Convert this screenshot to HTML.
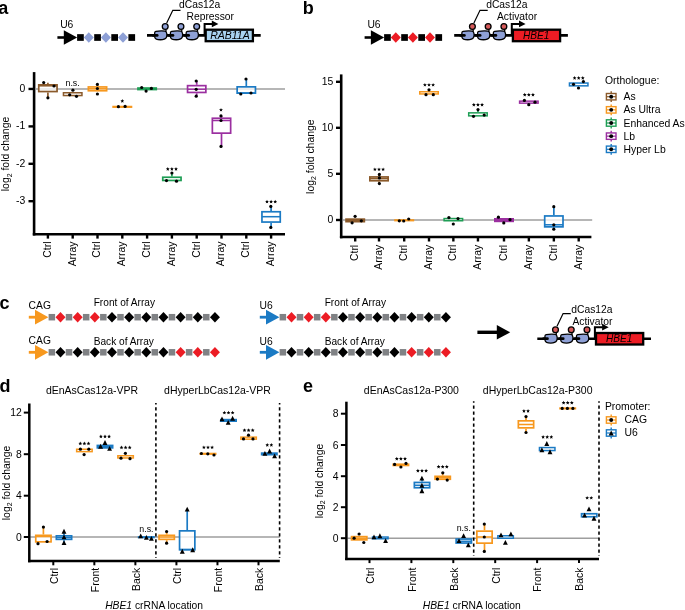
<!DOCTYPE html><html><head><meta charset="utf-8"><style>html,body{margin:0;padding:0;background:#fff;}svg{display:block;will-change:transform;}</style></head><body><svg width="685" height="610" viewBox="0 0 685 610" font-family='"Liberation Sans", sans-serif'>
<rect width="685" height="610" fill="#fff"/>
<text x="-1.8" y="14.2" font-size="18" font-weight="bold">a</text>
<text x="302.8" y="14.2" font-size="18" font-weight="bold">b</text>
<text x="-0.6" y="308.9" font-size="18" font-weight="bold">c</text>
<text x="-0.6" y="392.3" font-size="18" font-weight="bold">d</text>
<text x="303.0" y="392.3" font-size="18" font-weight="bold">e</text>
<text x="60.2" y="28.2" font-size="10.3" text-anchor="start" >U6</text>
<line x1="57.4" y1="37.5" x2="64.8" y2="37.5" stroke="#000" stroke-width="2.6"/>
<path d="M63.8 30.2 L77.2 37.5 L63.8 44.8Z" fill="#000"/>
<rect x="77.10" y="34.15" width="6.7" height="6.7" fill="#000"/>
<rect x="94.20" y="34.15" width="6.7" height="6.7" fill="#000"/>
<rect x="111.30" y="34.15" width="6.7" height="6.7" fill="#000"/>
<rect x="128.40" y="34.15" width="6.7" height="6.7" fill="#000"/>
<path d="M83.80 37.50 L88.80 32.25 L93.80 37.50 L88.80 42.75Z" fill="#8ea0d6"/>
<path d="M100.90 37.50 L105.90 32.25 L110.90 37.50 L105.90 42.75Z" fill="#8ea0d6"/>
<path d="M118.00 37.50 L123.00 32.25 L128.00 37.50 L123.00 42.75Z" fill="#8ea0d6"/>
<line x1="147" y1="35.4" x2="260.7" y2="35.4" stroke="#000" stroke-width="2.6"/>
<path d="M155.90 31.30 C158.90 30.75 162.90 30.70 165.20 31.10 C167.20 31.80 167.20 35.70 166.40 37.40 C165.30 39.20 162.90 39.75 160.50 39.75 C157.50 39.75 155.20 39.10 154.80 37.30 L154.65 32.90 C154.65 32.00 155.10 31.50 155.90 31.30Z" fill="#8ea0d6" stroke="#000" stroke-width="1.3"/>
<line x1="153.30" y1="35.4" x2="157.20" y2="35.4" stroke="#000" stroke-width="2.7" stroke-linecap="round"/>
<line x1="165.80" y1="28.50" x2="166.10" y2="31.60" stroke="#000" stroke-width="1.3"/>
<circle cx="165.20" cy="26.50" r="2.9" fill="#8ea0d6" stroke="#000" stroke-width="1.3"/>
<path d="M171.65 31.30 C174.65 30.75 178.65 30.70 180.95 31.10 C182.95 31.80 182.95 35.70 182.15 37.40 C181.05 39.20 178.65 39.75 176.25 39.75 C173.25 39.75 170.95 39.10 170.55 37.30 L170.40 32.90 C170.40 32.00 170.85 31.50 171.65 31.30Z" fill="#8ea0d6" stroke="#000" stroke-width="1.3"/>
<line x1="169.05" y1="35.4" x2="172.95" y2="35.4" stroke="#000" stroke-width="2.7" stroke-linecap="round"/>
<line x1="181.55" y1="28.50" x2="181.85" y2="31.60" stroke="#000" stroke-width="1.3"/>
<circle cx="180.95" cy="26.50" r="2.9" fill="#8ea0d6" stroke="#000" stroke-width="1.3"/>
<path d="M187.40 31.30 C190.40 30.75 194.40 30.70 196.70 31.10 C198.70 31.80 198.70 35.70 197.90 37.40 C196.80 39.20 194.40 39.75 192.00 39.75 C189.00 39.75 186.70 39.10 186.30 37.30 L186.15 32.90 C186.15 32.00 186.60 31.50 187.40 31.30Z" fill="#8ea0d6" stroke="#000" stroke-width="1.3"/>
<line x1="184.80" y1="35.4" x2="188.70" y2="35.4" stroke="#000" stroke-width="2.7" stroke-linecap="round"/>
<line x1="197.30" y1="28.50" x2="197.60" y2="31.60" stroke="#000" stroke-width="1.3"/>
<circle cx="196.70" cy="26.50" r="2.9" fill="#8ea0d6" stroke="#000" stroke-width="1.3"/>
<polyline points="166.7,23.0 172.8,10.3 180.5,10.3" fill="none" stroke="#000" stroke-width="1.2"/>
<polyline points="204.6,35.4 204.6,23.9 212.5,23.9" fill="none" stroke="#000" stroke-width="2"/>
<path d="M211.8 20.5 L218.4 23.9 L211.8 27.3Z" fill="#000"/>
<rect x="205.7" y="29.7" width="47.2" height="11.5" fill="#a9d3f0" stroke="#000" stroke-width="2.3"/>
<text x="210.2" y="39.1" font-size="10.5" font-style="italic" fill="#000">RAB11A</text>
<text x="179.0" y="7.6" font-size="10.3" text-anchor="start" >dCas12a</text>
<text x="186.5" y="19.8" font-size="10.3" text-anchor="start" >Repressor</text>
<text x="367.4" y="28.2" font-size="10.3" text-anchor="start" >U6</text>
<line x1="364.6" y1="37.5" x2="371.9" y2="37.5" stroke="#000" stroke-width="2.6"/>
<path d="M370.9 30.2 L384.2 37.5 L370.9 44.8Z" fill="#000"/>
<rect x="384.10" y="34.15" width="6.7" height="6.7" fill="#000"/>
<rect x="401.20" y="34.15" width="6.7" height="6.7" fill="#000"/>
<rect x="418.30" y="34.15" width="6.7" height="6.7" fill="#000"/>
<rect x="435.40" y="34.15" width="6.7" height="6.7" fill="#000"/>
<path d="M390.80 37.50 L395.80 32.25 L400.80 37.50 L395.80 42.75Z" fill="#ec1c24"/>
<path d="M407.90 37.50 L412.90 32.25 L417.90 37.50 L412.90 42.75Z" fill="#ec1c24"/>
<path d="M425.00 37.50 L430.00 32.25 L435.00 37.50 L430.00 42.75Z" fill="#ec1c24"/>
<line x1="454.2" y1="35.4" x2="567.9" y2="35.4" stroke="#000" stroke-width="2.6"/>
<path d="M463.10 31.30 C466.10 30.75 470.10 30.70 472.40 31.10 C474.40 31.80 474.40 35.70 473.60 37.40 C472.50 39.20 470.10 39.75 467.70 39.75 C464.70 39.75 462.40 39.10 462.00 37.30 L461.85 32.90 C461.85 32.00 462.30 31.50 463.10 31.30Z" fill="#8ea0d6" stroke="#000" stroke-width="1.3"/>
<line x1="460.50" y1="35.4" x2="464.40" y2="35.4" stroke="#000" stroke-width="2.7" stroke-linecap="round"/>
<line x1="473.00" y1="28.50" x2="473.30" y2="31.60" stroke="#000" stroke-width="1.3"/>
<circle cx="472.40" cy="26.50" r="2.9" fill="#d65a5a" stroke="#000" stroke-width="1.3"/>
<path d="M478.85 31.30 C481.85 30.75 485.85 30.70 488.15 31.10 C490.15 31.80 490.15 35.70 489.35 37.40 C488.25 39.20 485.85 39.75 483.45 39.75 C480.45 39.75 478.15 39.10 477.75 37.30 L477.60 32.90 C477.60 32.00 478.05 31.50 478.85 31.30Z" fill="#8ea0d6" stroke="#000" stroke-width="1.3"/>
<line x1="476.25" y1="35.4" x2="480.15" y2="35.4" stroke="#000" stroke-width="2.7" stroke-linecap="round"/>
<line x1="488.75" y1="28.50" x2="489.05" y2="31.60" stroke="#000" stroke-width="1.3"/>
<circle cx="488.15" cy="26.50" r="2.9" fill="#d65a5a" stroke="#000" stroke-width="1.3"/>
<path d="M494.60 31.30 C497.60 30.75 501.60 30.70 503.90 31.10 C505.90 31.80 505.90 35.70 505.10 37.40 C504.00 39.20 501.60 39.75 499.20 39.75 C496.20 39.75 493.90 39.10 493.50 37.30 L493.35 32.90 C493.35 32.00 493.80 31.50 494.60 31.30Z" fill="#8ea0d6" stroke="#000" stroke-width="1.3"/>
<line x1="492.00" y1="35.4" x2="495.90" y2="35.4" stroke="#000" stroke-width="2.7" stroke-linecap="round"/>
<line x1="504.50" y1="28.50" x2="504.80" y2="31.60" stroke="#000" stroke-width="1.3"/>
<circle cx="503.90" cy="26.50" r="2.9" fill="#d65a5a" stroke="#000" stroke-width="1.3"/>
<polyline points="473.9,23.0 480.0,10.3 487.7,10.3" fill="none" stroke="#000" stroke-width="1.2"/>
<polyline points="511.79999999999995,35.4 511.79999999999995,23.9 519.7,23.9" fill="none" stroke="#000" stroke-width="2"/>
<path d="M519.0 20.5 L525.6 23.9 L519.0 27.3Z" fill="#000"/>
<rect x="512.9" y="29.7" width="47.2" height="11.5" fill="#ec1c24" stroke="#000" stroke-width="2.3"/>
<text x="522.9" y="39.1" font-size="10.1" font-style="italic" fill="#000">HBE1</text>
<text x="486.2" y="7.6" font-size="10.3" text-anchor="start" >dCas12a</text>
<text x="497.0" y="19.8" font-size="10.3" text-anchor="start" >Activator</text>
<line x1="36" y1="89" x2="285" y2="89" stroke="#9e9e9e" stroke-width="1.4" />
<line x1="34.1" y1="72.1" x2="34.1" y2="235.5" stroke="#000" stroke-width="2.6"/>
<line x1="32.800000000000004" y1="234.2" x2="285" y2="234.2" stroke="#000" stroke-width="2.5"/>
<line x1="28.5" y1="88.95" x2="34.1" y2="88.95" stroke="#000" stroke-width="2.4" />
<text x="25.3" y="91.65" font-size="10.4" text-anchor="end" >0</text>
<line x1="28.5" y1="126.4" x2="34.1" y2="126.4" stroke="#000" stroke-width="2.4" />
<text x="25.3" y="129.1" font-size="10.4" text-anchor="end" >-1</text>
<line x1="28.5" y1="163.8" x2="34.1" y2="163.8" stroke="#000" stroke-width="2.4" />
<text x="25.3" y="166.5" font-size="10.4" text-anchor="end" >-2</text>
<line x1="28.5" y1="201.2" x2="34.1" y2="201.2" stroke="#000" stroke-width="2.4" />
<text x="25.3" y="203.89999999999998" font-size="10.4" text-anchor="end" >-3</text>
<line x1="47.9" y1="234.2" x2="47.9" y2="238.6" stroke="#000" stroke-width="2.4" />
<text x="50.8" y="241.5" font-size="10.4" text-anchor="end" transform="rotate(-90 50.8 241.5)" >Ctrl</text>
<line x1="72.7" y1="234.2" x2="72.7" y2="238.6" stroke="#000" stroke-width="2.4" />
<text x="75.60000000000001" y="241.5" font-size="10.4" text-anchor="end" transform="rotate(-90 75.60000000000001 241.5)" >Array</text>
<line x1="97.5" y1="234.2" x2="97.5" y2="238.6" stroke="#000" stroke-width="2.4" />
<text x="100.4" y="241.5" font-size="10.4" text-anchor="end" transform="rotate(-90 100.4 241.5)" >Ctrl</text>
<line x1="122.30000000000001" y1="234.2" x2="122.30000000000001" y2="238.6" stroke="#000" stroke-width="2.4" />
<text x="125.20000000000002" y="241.5" font-size="10.4" text-anchor="end" transform="rotate(-90 125.20000000000002 241.5)" >Array</text>
<line x1="147.1" y1="234.2" x2="147.1" y2="238.6" stroke="#000" stroke-width="2.4" />
<text x="150.0" y="241.5" font-size="10.4" text-anchor="end" transform="rotate(-90 150.0 241.5)" >Ctrl</text>
<line x1="171.9" y1="234.2" x2="171.9" y2="238.6" stroke="#000" stroke-width="2.4" />
<text x="174.8" y="241.5" font-size="10.4" text-anchor="end" transform="rotate(-90 174.8 241.5)" >Array</text>
<line x1="196.70000000000002" y1="234.2" x2="196.70000000000002" y2="238.6" stroke="#000" stroke-width="2.4" />
<text x="199.60000000000002" y="241.5" font-size="10.4" text-anchor="end" transform="rotate(-90 199.60000000000002 241.5)" >Ctrl</text>
<line x1="221.5" y1="234.2" x2="221.5" y2="238.6" stroke="#000" stroke-width="2.4" />
<text x="224.4" y="241.5" font-size="10.4" text-anchor="end" transform="rotate(-90 224.4 241.5)" >Array</text>
<line x1="246.3" y1="234.2" x2="246.3" y2="238.6" stroke="#000" stroke-width="2.4" />
<text x="249.20000000000002" y="241.5" font-size="10.4" text-anchor="end" transform="rotate(-90 249.20000000000002 241.5)" >Ctrl</text>
<line x1="271.1" y1="234.2" x2="271.1" y2="238.6" stroke="#000" stroke-width="2.4" />
<text x="274.0" y="241.5" font-size="10.4" text-anchor="end" transform="rotate(-90 274.0 241.5)" >Array</text>
<text transform="translate(9.4 154) rotate(-90)" font-size="10.4" text-anchor="middle">log<tspan font-size="7" dy="2.2">2</tspan><tspan dy="-2.2"> fold change</tspan></text>
<line x1="47.9" y1="82.8" x2="47.9" y2="84" stroke="#8b5a2b" stroke-width="1.7" />
<line x1="47.9" y1="92.4" x2="47.9" y2="97.7" stroke="#8b5a2b" stroke-width="1.7" />
<rect x="38.75" y="84.85" width="18.30" height="6.70" fill="#fff" fill-opacity="0.75" stroke="#8b5a2b" stroke-width="1.7"/>
<line x1="38.75" y1="85.8" x2="57.05" y2="85.8" stroke="#8b5a2b" stroke-width="1.53" />
<circle cx="43.7" cy="82.6" r="1.6" fill="#000"/>
<circle cx="54" cy="86" r="1.6" fill="#000"/>
<circle cx="47.9" cy="97.8" r="1.6" fill="#000"/>
<rect x="63.45" y="92.75" width="18.50" height="2.80" fill="#fff" fill-opacity="0.75" stroke="#8b5a2b" stroke-width="1.5"/>
<circle cx="72.9" cy="90.2" r="1.6" fill="#000"/>
<circle cx="69.7" cy="94.8" r="1.6" fill="#000"/>
<circle cx="76.5" cy="96.3" r="1.6" fill="#000"/>
<text x="72.6" y="86.4" font-size="8.8" text-anchor="middle" >n.s.</text>
<rect x="88.35" y="86.95" width="18.30" height="3.80" fill="#fff" fill-opacity="0.75" stroke="#f7981e" stroke-width="1.7"/>
<line x1="88.35" y1="88.8" x2="106.65" y2="88.8" stroke="#f7981e" stroke-width="1.53" />
<circle cx="97.4" cy="84.4" r="1.6" fill="#000"/>
<circle cx="97.4" cy="88.5" r="1.6" fill="#000"/>
<circle cx="97.4" cy="94" r="1.6" fill="#000"/>
<rect x="112.30000000000001" y="105.75" width="20.0" height="2.2" fill="#f7981e"/>
<circle cx="118.4" cy="106.7" r="1.6" fill="#000"/>
<circle cx="125.1" cy="106.4" r="1.6" fill="#000"/>
<polygon points="122.30,99.05 122.84,100.31 124.20,100.43 123.17,101.33 123.48,102.67 122.30,101.97 121.12,102.67 121.43,101.33 120.40,100.43 121.76,100.31" fill="#000"/>
<rect x="137.1" y="87.2" width="20.0" height="3.20" fill="#1e9e55"/>
<circle cx="141.7" cy="87.5" r="1.6" fill="#000"/>
<circle cx="146.1" cy="91.1" r="1.6" fill="#000"/>
<circle cx="151.4" cy="88.4" r="1.6" fill="#000"/>
<line x1="171.9" y1="173" x2="171.9" y2="176.4" stroke="#1e9e55" stroke-width="1.7" />
<rect x="162.75" y="177.25" width="18.30" height="3.20" fill="#fff" fill-opacity="0.75" stroke="#1e9e55" stroke-width="1.7"/>
<circle cx="171.9" cy="173" r="1.6" fill="#000"/>
<circle cx="166.5" cy="180.6" r="1.6" fill="#000"/>
<circle cx="176.5" cy="181.2" r="1.6" fill="#000"/>
<polygon points="167.80,167.05 168.34,168.31 169.70,168.43 168.67,169.33 168.98,170.67 167.80,169.97 166.62,170.67 166.93,169.33 165.90,168.43 167.26,168.31" fill="#000"/>
<polygon points="171.90,167.05 172.44,168.31 173.80,168.43 172.77,169.33 173.08,170.67 171.90,169.97 170.72,170.67 171.03,169.33 170.00,168.43 171.36,168.31" fill="#000"/>
<polygon points="176.00,167.05 176.54,168.31 177.90,168.43 176.87,169.33 177.18,170.67 176.00,169.97 174.82,170.67 175.13,169.33 174.10,168.43 175.46,168.31" fill="#000"/>
<line x1="196.70000000000002" y1="81" x2="196.70000000000002" y2="84.8" stroke="#9b2fa0" stroke-width="1.7" />
<line x1="196.70000000000002" y1="93.3" x2="196.70000000000002" y2="96.2" stroke="#9b2fa0" stroke-width="1.7" />
<rect x="187.55" y="85.65" width="18.30" height="6.80" fill="#fff" fill-opacity="0.75" stroke="#9b2fa0" stroke-width="1.7"/>
<line x1="187.55" y1="89.2" x2="205.85000000000002" y2="89.2" stroke="#9b2fa0" stroke-width="1.53" />
<circle cx="196.2" cy="81" r="1.6" fill="#000"/>
<circle cx="196.2" cy="89.3" r="1.6" fill="#000"/>
<circle cx="196.2" cy="96.2" r="1.6" fill="#000"/>
<line x1="221.5" y1="115.9" x2="221.5" y2="117.4" stroke="#9b2fa0" stroke-width="1.7" />
<line x1="221.5" y1="134" x2="221.5" y2="146.4" stroke="#9b2fa0" stroke-width="1.7" />
<rect x="212.35" y="118.25" width="18.30" height="14.90" fill="#fff" fill-opacity="0.75" stroke="#9b2fa0" stroke-width="1.7"/>
<line x1="212.35" y1="120.5" x2="230.65" y2="120.5" stroke="#9b2fa0" stroke-width="1.53" />
<circle cx="221" cy="115.9" r="1.6" fill="#000"/>
<circle cx="221" cy="120.5" r="1.6" fill="#000"/>
<circle cx="221" cy="146.4" r="1.6" fill="#000"/>
<polygon points="221.00,107.95 221.54,109.21 222.90,109.33 221.87,110.23 222.18,111.57 221.00,110.87 219.82,111.57 220.13,110.23 219.10,109.33 220.46,109.21" fill="#000"/>
<line x1="246.3" y1="79" x2="246.3" y2="86" stroke="#1b7ac4" stroke-width="1.7" />
<rect x="237.15" y="86.85" width="18.30" height="6.30" fill="#fff" fill-opacity="0.75" stroke="#1b7ac4" stroke-width="1.7"/>
<line x1="237.15" y1="93" x2="255.45000000000002" y2="93" stroke="#1b7ac4" stroke-width="1.53" />
<circle cx="246" cy="79" r="1.6" fill="#000"/>
<circle cx="240.8" cy="94" r="1.6" fill="#000"/>
<circle cx="251" cy="93" r="1.6" fill="#000"/>
<line x1="271.1" y1="206.4" x2="271.1" y2="210.9" stroke="#1b7ac4" stroke-width="1.7" />
<line x1="271.1" y1="222.9" x2="271.1" y2="227.4" stroke="#1b7ac4" stroke-width="1.7" />
<rect x="261.95" y="211.75" width="18.30" height="10.30" fill="#fff" fill-opacity="0.75" stroke="#1b7ac4" stroke-width="1.7"/>
<line x1="261.95000000000005" y1="216.7" x2="280.25" y2="216.7" stroke="#1b7ac4" stroke-width="1.53" />
<circle cx="270.8" cy="206.4" r="1.6" fill="#000"/>
<circle cx="270.8" cy="227.4" r="1.6" fill="#000"/>
<polygon points="267.00,199.75 267.54,201.01 268.90,201.13 267.87,202.03 268.18,203.37 267.00,202.67 265.82,203.37 266.13,202.03 265.10,201.13 266.46,201.01" fill="#000"/>
<polygon points="271.10,199.75 271.64,201.01 273.00,201.13 271.97,202.03 272.28,203.37 271.10,202.67 269.92,203.37 270.23,202.03 269.20,201.13 270.56,201.01" fill="#000"/>
<polygon points="275.20,199.75 275.74,201.01 277.10,201.13 276.07,202.03 276.38,203.37 275.20,202.67 274.02,203.37 274.33,202.03 273.30,201.13 274.66,201.01" fill="#000"/>
<line x1="343" y1="220" x2="592.2" y2="220" stroke="#9e9e9e" stroke-width="1.4" />
<line x1="341.2" y1="74.4" x2="341.2" y2="238.3" stroke="#000" stroke-width="2.6"/>
<line x1="339.9" y1="237.0" x2="591.4" y2="237.0" stroke="#000" stroke-width="2.5"/>
<line x1="336" y1="81.8" x2="341.2" y2="81.8" stroke="#000" stroke-width="2.4" />
<text x="333.3" y="84.5" font-size="10.4" text-anchor="end" >15</text>
<line x1="336" y1="127.8" x2="341.2" y2="127.8" stroke="#000" stroke-width="2.4" />
<text x="333.3" y="130.5" font-size="10.4" text-anchor="end" >10</text>
<line x1="336" y1="173.8" x2="341.2" y2="173.8" stroke="#000" stroke-width="2.4" />
<text x="333.3" y="176.5" font-size="10.4" text-anchor="end" >5</text>
<line x1="336" y1="220" x2="341.2" y2="220" stroke="#000" stroke-width="2.4" />
<text x="333.3" y="222.7" font-size="10.4" text-anchor="end" >0</text>
<line x1="355.2" y1="237.0" x2="355.2" y2="241.5" stroke="#000" stroke-width="2.4" />
<text x="358.09999999999997" y="244.8" font-size="10.4" text-anchor="end" transform="rotate(-90 358.09999999999997 244.8)" >Ctrl</text>
<line x1="379.0" y1="237.0" x2="379.0" y2="241.5" stroke="#000" stroke-width="2.4" />
<text x="381.9" y="244.8" font-size="10.4" text-anchor="end" transform="rotate(-90 381.9 244.8)" >Array</text>
<line x1="404.2" y1="237.0" x2="404.2" y2="241.5" stroke="#000" stroke-width="2.4" />
<text x="407.09999999999997" y="244.8" font-size="10.4" text-anchor="end" transform="rotate(-90 407.09999999999997 244.8)" >Ctrl</text>
<line x1="429.0" y1="237.0" x2="429.0" y2="241.5" stroke="#000" stroke-width="2.4" />
<text x="431.9" y="244.8" font-size="10.4" text-anchor="end" transform="rotate(-90 431.9 244.8)" >Array</text>
<line x1="453.35" y1="237.0" x2="453.35" y2="241.5" stroke="#000" stroke-width="2.4" />
<text x="456.25" y="244.8" font-size="10.4" text-anchor="end" transform="rotate(-90 456.25 244.8)" >Ctrl</text>
<line x1="477.95" y1="237.0" x2="477.95" y2="241.5" stroke="#000" stroke-width="2.4" />
<text x="480.84999999999997" y="244.8" font-size="10.4" text-anchor="end" transform="rotate(-90 480.84999999999997 244.8)" >Array</text>
<line x1="504.0" y1="237.0" x2="504.0" y2="241.5" stroke="#000" stroke-width="2.4" />
<text x="506.9" y="244.8" font-size="10.4" text-anchor="end" transform="rotate(-90 506.9 244.8)" >Ctrl</text>
<line x1="528.85" y1="237.0" x2="528.85" y2="241.5" stroke="#000" stroke-width="2.4" />
<text x="531.75" y="244.8" font-size="10.4" text-anchor="end" transform="rotate(-90 531.75 244.8)" >Array</text>
<line x1="553.85" y1="237.0" x2="553.85" y2="241.5" stroke="#000" stroke-width="2.4" />
<text x="556.75" y="244.8" font-size="10.4" text-anchor="end" transform="rotate(-90 556.75 244.8)" >Ctrl</text>
<line x1="578.7" y1="237.0" x2="578.7" y2="241.5" stroke="#000" stroke-width="2.4" />
<text x="581.6" y="244.8" font-size="10.4" text-anchor="end" transform="rotate(-90 581.6 244.8)" >Array</text>
<text transform="translate(313.8 156.7) rotate(-90)" font-size="10.4" text-anchor="middle">log<tspan font-size="7" dy="2.2">2</tspan><tspan dy="-2.2"> fold change</tspan></text>
<rect x="345.2" y="218.3" width="20.0" height="4.20" fill="#8b5a2b"/>
<circle cx="355.1" cy="216.3" r="1.6" fill="#000"/>
<circle cx="352.1" cy="222.8" r="1.6" fill="#000"/>
<circle cx="361.3" cy="220.8" r="1.6" fill="#000"/>
<line x1="379.0" y1="174.4" x2="379.0" y2="176.1" stroke="#8b5a2b" stroke-width="1.7" />
<line x1="379.0" y1="181.6" x2="379.0" y2="183.6" stroke="#8b5a2b" stroke-width="1.7" />
<rect x="369.85" y="176.95" width="18.30" height="3.80" fill="#fff" fill-opacity="0.75" stroke="#8b5a2b" stroke-width="1.7"/>
<line x1="369.85" y1="178.6" x2="388.15" y2="178.6" stroke="#8b5a2b" stroke-width="1.53" />
<circle cx="379.4" cy="174.4" r="1.6" fill="#000"/>
<circle cx="379.4" cy="177.9" r="1.6" fill="#000"/>
<circle cx="379.4" cy="183.6" r="1.6" fill="#000"/>
<polygon points="374.90,167.45 375.44,168.71 376.80,168.83 375.77,169.73 376.08,171.07 374.90,170.37 373.72,171.07 374.03,169.73 373.00,168.83 374.36,168.71" fill="#000"/>
<polygon points="379.00,167.45 379.54,168.71 380.90,168.83 379.87,169.73 380.18,171.07 379.00,170.37 377.82,171.07 378.13,169.73 377.10,168.83 378.46,168.71" fill="#000"/>
<polygon points="383.10,167.45 383.64,168.71 385.00,168.83 383.97,169.73 384.28,171.07 383.10,170.37 381.92,171.07 382.23,169.73 381.20,168.83 382.56,168.71" fill="#000"/>
<rect x="394.2" y="219.20" width="20.0" height="2.2" fill="#f7981e"/>
<circle cx="399.3" cy="220.8" r="1.6" fill="#000"/>
<circle cx="403.7" cy="221" r="1.6" fill="#000"/>
<circle cx="408.7" cy="219" r="1.6" fill="#000"/>
<line x1="429.0" y1="89.8" x2="429.0" y2="91" stroke="#f7981e" stroke-width="1.7" />
<rect x="419.75" y="91.75" width="18.50" height="2.20" fill="#fff" fill-opacity="0.75" stroke="#f7981e" stroke-width="1.5"/>
<circle cx="429" cy="89.8" r="1.6" fill="#000"/>
<circle cx="426" cy="94.7" r="1.6" fill="#000"/>
<circle cx="433.3" cy="94.7" r="1.6" fill="#000"/>
<polygon points="424.90,82.95 425.44,84.21 426.80,84.33 425.77,85.23 426.08,86.57 424.90,85.87 423.72,86.57 424.03,85.23 423.00,84.33 424.36,84.21" fill="#000"/>
<polygon points="429.00,82.95 429.54,84.21 430.90,84.33 429.87,85.23 430.18,86.57 429.00,85.87 427.82,86.57 428.13,85.23 427.10,84.33 428.46,84.21" fill="#000"/>
<polygon points="433.10,82.95 433.64,84.21 435.00,84.33 433.97,85.23 434.28,86.57 433.10,85.87 431.92,86.57 432.23,85.23 431.20,84.33 432.56,84.21" fill="#000"/>
<rect x="444.10" y="218.55" width="18.50" height="2.20" fill="#fff" fill-opacity="0.75" stroke="#1e9e55" stroke-width="1.5"/>
<circle cx="448.9" cy="217.6" r="1.6" fill="#000"/>
<circle cx="458" cy="218.6" r="1.6" fill="#000"/>
<circle cx="453.3" cy="224" r="1.6" fill="#000"/>
<line x1="477.95" y1="109.6" x2="477.95" y2="112.1" stroke="#1e9e55" stroke-width="1.7" />
<rect x="468.70" y="112.85" width="18.50" height="3.00" fill="#fff" fill-opacity="0.75" stroke="#1e9e55" stroke-width="1.5"/>
<circle cx="478" cy="109.6" r="1.6" fill="#000"/>
<circle cx="473.5" cy="116.3" r="1.6" fill="#000"/>
<circle cx="484.2" cy="115.1" r="1.6" fill="#000"/>
<polygon points="473.85,102.85 474.39,104.11 475.75,104.23 474.72,105.13 475.03,106.47 473.85,105.77 472.67,106.47 472.98,105.13 471.95,104.23 473.31,104.11" fill="#000"/>
<polygon points="477.95,102.85 478.49,104.11 479.85,104.23 478.82,105.13 479.13,106.47 477.95,105.77 476.77,106.47 477.08,105.13 476.05,104.23 477.41,104.11" fill="#000"/>
<polygon points="482.05,102.85 482.59,104.11 483.95,104.23 482.92,105.13 483.23,106.47 482.05,105.77 480.87,106.47 481.18,105.13 480.15,104.23 481.51,104.11" fill="#000"/>
<rect x="494.0" y="218" width="20.0" height="4.20" fill="#9b2fa0"/>
<circle cx="498.4" cy="217.2" r="1.6" fill="#000"/>
<circle cx="503.8" cy="222.9" r="1.6" fill="#000"/>
<circle cx="510" cy="219.7" r="1.6" fill="#000"/>
<rect x="519.60" y="101.15" width="18.50" height="2.00" fill="#fff" fill-opacity="0.75" stroke="#9b2fa0" stroke-width="1.5"/>
<circle cx="524.4" cy="100.4" r="1.6" fill="#000"/>
<circle cx="528.8" cy="104.7" r="1.6" fill="#000"/>
<circle cx="535" cy="102.2" r="1.6" fill="#000"/>
<polygon points="524.75,92.85 525.29,94.11 526.65,94.23 525.62,95.13 525.93,96.47 524.75,95.77 523.57,96.47 523.88,95.13 522.85,94.23 524.21,94.11" fill="#000"/>
<polygon points="528.85,92.85 529.39,94.11 530.75,94.23 529.72,95.13 530.03,96.47 528.85,95.77 527.67,96.47 527.98,95.13 526.95,94.23 528.31,94.11" fill="#000"/>
<polygon points="532.95,92.85 533.49,94.11 534.85,94.23 533.82,95.13 534.13,96.47 532.95,95.77 531.77,96.47 532.08,95.13 531.05,94.23 532.41,94.11" fill="#000"/>
<line x1="553.85" y1="206.7" x2="553.85" y2="215.1" stroke="#1b7ac4" stroke-width="1.7" />
<line x1="553.85" y1="227.7" x2="553.85" y2="229.2" stroke="#1b7ac4" stroke-width="1.7" />
<rect x="544.70" y="215.95" width="18.30" height="10.90" fill="#fff" fill-opacity="0.75" stroke="#1b7ac4" stroke-width="1.7"/>
<line x1="544.7" y1="224.8" x2="563.0" y2="224.8" stroke="#1b7ac4" stroke-width="1.53" />
<circle cx="553.8" cy="206.7" r="1.6" fill="#000"/>
<circle cx="553.8" cy="224.8" r="1.6" fill="#000"/>
<circle cx="553.8" cy="229.2" r="1.6" fill="#000"/>
<rect x="569.45" y="83.05" width="18.50" height="2.80" fill="#fff" fill-opacity="0.75" stroke="#1b7ac4" stroke-width="1.5"/>
<circle cx="573.5" cy="84.3" r="1.6" fill="#000"/>
<circle cx="583.4" cy="81.6" r="1.6" fill="#000"/>
<circle cx="578.5" cy="88" r="1.6" fill="#000"/>
<polygon points="574.60,76.05 575.14,77.31 576.50,77.43 575.47,78.33 575.78,79.67 574.60,78.97 573.42,79.67 573.73,78.33 572.70,77.43 574.06,77.31" fill="#000"/>
<polygon points="578.70,76.05 579.24,77.31 580.60,77.43 579.57,78.33 579.88,79.67 578.70,78.97 577.52,79.67 577.83,78.33 576.80,77.43 578.16,77.31" fill="#000"/>
<polygon points="582.80,76.05 583.34,77.31 584.70,77.43 583.67,78.33 583.98,79.67 582.80,78.97 581.62,79.67 581.93,78.33 580.90,77.43 582.26,77.31" fill="#000"/>
<text x="605" y="84.0" font-size="10.4" text-anchor="start" >Orthologue:</text>
<line x1="611.2" y1="91.3" x2="611.2" y2="102.10000000000001" stroke="#8b5a2b" stroke-width="1.4" />
<rect x="606.40" y="93.50" width="9.6" height="6.4" fill="#fff" stroke="#8b5a2b" stroke-width="1.4"/>
<line x1="606.4000000000001" y1="96.7" x2="616.0" y2="96.7" stroke="#8b5a2b" stroke-width="1.2" />
<circle cx="611.2" cy="96.7" r="1.95" fill="#000"/>
<text x="623.5" y="100.2" font-size="10.4" text-anchor="start" >As</text>
<line x1="611.2" y1="104.45" x2="611.2" y2="115.25000000000001" stroke="#f7981e" stroke-width="1.4" />
<rect x="606.40" y="106.65" width="9.6" height="6.4" fill="#fff" stroke="#f7981e" stroke-width="1.4"/>
<line x1="606.4000000000001" y1="109.85000000000001" x2="616.0" y2="109.85000000000001" stroke="#f7981e" stroke-width="1.2" />
<circle cx="611.2" cy="109.85000000000001" r="1.95" fill="#000"/>
<text x="623.5" y="113.35000000000001" font-size="10.4" text-anchor="start" >As Ultra</text>
<line x1="611.2" y1="117.6" x2="611.2" y2="128.4" stroke="#1e9e55" stroke-width="1.4" />
<rect x="606.40" y="119.80" width="9.6" height="6.4" fill="#fff" stroke="#1e9e55" stroke-width="1.4"/>
<line x1="606.4000000000001" y1="123.0" x2="616.0" y2="123.0" stroke="#1e9e55" stroke-width="1.2" />
<circle cx="611.2" cy="123.0" r="1.95" fill="#000"/>
<text x="623.5" y="126.5" font-size="10.4" text-anchor="start" >Enhanced As</text>
<line x1="611.2" y1="130.75" x2="611.2" y2="141.55" stroke="#9b2fa0" stroke-width="1.4" />
<rect x="606.40" y="132.95" width="9.6" height="6.4" fill="#fff" stroke="#9b2fa0" stroke-width="1.4"/>
<line x1="606.4000000000001" y1="136.15" x2="616.0" y2="136.15" stroke="#9b2fa0" stroke-width="1.2" />
<circle cx="611.2" cy="136.15" r="1.95" fill="#000"/>
<text x="623.5" y="139.65" font-size="10.4" text-anchor="start" >Lb</text>
<line x1="611.2" y1="143.9" x2="611.2" y2="154.70000000000002" stroke="#1b7ac4" stroke-width="1.4" />
<rect x="606.40" y="146.10" width="9.6" height="6.4" fill="#fff" stroke="#1b7ac4" stroke-width="1.4"/>
<line x1="606.4000000000001" y1="149.3" x2="616.0" y2="149.3" stroke="#1b7ac4" stroke-width="1.2" />
<circle cx="611.2" cy="149.3" r="1.95" fill="#000"/>
<text x="623.5" y="152.8" font-size="10.4" text-anchor="start" >Hyper Lb</text>
<text x="28.6" y="308.8" font-size="10.3" text-anchor="start" >CAG</text>
<line x1="28.8" y1="317.2" x2="36" y2="317.2" stroke="#f7981e" stroke-width="2.8"/>
<path d="M35 309.8 L48.4 317.2 L35 324.59999999999997Z" fill="#f7981e"/>
<rect x="48.60" y="313.95" width="6.5" height="6.5" fill="#808285"/>
<rect x="65.76" y="313.95" width="6.5" height="6.5" fill="#808285"/>
<rect x="82.92" y="313.95" width="6.5" height="6.5" fill="#808285"/>
<rect x="100.08" y="313.95" width="6.5" height="6.5" fill="#808285"/>
<rect x="117.24" y="313.95" width="6.5" height="6.5" fill="#808285"/>
<rect x="134.40" y="313.95" width="6.5" height="6.5" fill="#808285"/>
<rect x="151.56" y="313.95" width="6.5" height="6.5" fill="#808285"/>
<rect x="168.72" y="313.95" width="6.5" height="6.5" fill="#808285"/>
<rect x="185.88" y="313.95" width="6.5" height="6.5" fill="#808285"/>
<rect x="203.04" y="313.95" width="6.5" height="6.5" fill="#808285"/>
<path d="M55.50 317.20 L60.50 311.95 L65.50 317.20 L60.50 322.45Z" fill="#ec1c24"/>
<path d="M72.66 317.20 L77.66 311.95 L82.66 317.20 L77.66 322.45Z" fill="#ec1c24"/>
<path d="M89.82 317.20 L94.82 311.95 L99.82 317.20 L94.82 322.45Z" fill="#ec1c24"/>
<path d="M106.98 317.20 L111.98 311.95 L116.98 317.20 L111.98 322.45Z" fill="#000"/>
<path d="M124.14 317.20 L129.14 311.95 L134.14 317.20 L129.14 322.45Z" fill="#000"/>
<path d="M141.30 317.20 L146.30 311.95 L151.30 317.20 L146.30 322.45Z" fill="#000"/>
<path d="M158.46 317.20 L163.46 311.95 L168.46 317.20 L163.46 322.45Z" fill="#000"/>
<path d="M175.62 317.20 L180.62 311.95 L185.62 317.20 L180.62 322.45Z" fill="#000"/>
<path d="M192.78 317.20 L197.78 311.95 L202.78 317.20 L197.78 322.45Z" fill="#000"/>
<path d="M209.94 317.20 L214.94 311.95 L219.94 317.20 L214.94 322.45Z" fill="#000"/>
<text x="93.7" y="305.9" font-size="10.15" text-anchor="start" >Front of Array</text>
<text x="28.6" y="344.2" font-size="10.3" text-anchor="start" >CAG</text>
<line x1="28.8" y1="352.3" x2="36" y2="352.3" stroke="#f7981e" stroke-width="2.8"/>
<path d="M35 344.90000000000003 L48.4 352.3 L35 359.7Z" fill="#f7981e"/>
<rect x="48.60" y="349.05" width="6.5" height="6.5" fill="#808285"/>
<rect x="65.76" y="349.05" width="6.5" height="6.5" fill="#808285"/>
<rect x="82.92" y="349.05" width="6.5" height="6.5" fill="#808285"/>
<rect x="100.08" y="349.05" width="6.5" height="6.5" fill="#808285"/>
<rect x="117.24" y="349.05" width="6.5" height="6.5" fill="#808285"/>
<rect x="134.40" y="349.05" width="6.5" height="6.5" fill="#808285"/>
<rect x="151.56" y="349.05" width="6.5" height="6.5" fill="#808285"/>
<rect x="168.72" y="349.05" width="6.5" height="6.5" fill="#808285"/>
<rect x="185.88" y="349.05" width="6.5" height="6.5" fill="#808285"/>
<rect x="203.04" y="349.05" width="6.5" height="6.5" fill="#808285"/>
<path d="M55.50 352.30 L60.50 347.05 L65.50 352.30 L60.50 357.55Z" fill="#000"/>
<path d="M72.66 352.30 L77.66 347.05 L82.66 352.30 L77.66 357.55Z" fill="#000"/>
<path d="M89.82 352.30 L94.82 347.05 L99.82 352.30 L94.82 357.55Z" fill="#000"/>
<path d="M106.98 352.30 L111.98 347.05 L116.98 352.30 L111.98 357.55Z" fill="#000"/>
<path d="M124.14 352.30 L129.14 347.05 L134.14 352.30 L129.14 357.55Z" fill="#000"/>
<path d="M141.30 352.30 L146.30 347.05 L151.30 352.30 L146.30 357.55Z" fill="#000"/>
<path d="M158.46 352.30 L163.46 347.05 L168.46 352.30 L163.46 357.55Z" fill="#000"/>
<path d="M175.62 352.30 L180.62 347.05 L185.62 352.30 L180.62 357.55Z" fill="#ec1c24"/>
<path d="M192.78 352.30 L197.78 347.05 L202.78 352.30 L197.78 357.55Z" fill="#ec1c24"/>
<path d="M209.94 352.30 L214.94 347.05 L219.94 352.30 L214.94 357.55Z" fill="#ec1c24"/>
<text x="93.7" y="344.6" font-size="10.15" text-anchor="start" >Back of Array</text>
<text x="259.6" y="309.1" font-size="10.3" text-anchor="start" >U6</text>
<line x1="259.8" y1="317.2" x2="267" y2="317.2" stroke="#1b7ac4" stroke-width="2.8"/>
<path d="M266 309.8 L279.4 317.2 L266 324.59999999999997Z" fill="#1b7ac4"/>
<rect x="279.60" y="313.95" width="6.5" height="6.5" fill="#808285"/>
<rect x="296.76" y="313.95" width="6.5" height="6.5" fill="#808285"/>
<rect x="313.92" y="313.95" width="6.5" height="6.5" fill="#808285"/>
<rect x="331.08" y="313.95" width="6.5" height="6.5" fill="#808285"/>
<rect x="348.24" y="313.95" width="6.5" height="6.5" fill="#808285"/>
<rect x="365.40" y="313.95" width="6.5" height="6.5" fill="#808285"/>
<rect x="382.56" y="313.95" width="6.5" height="6.5" fill="#808285"/>
<rect x="399.72" y="313.95" width="6.5" height="6.5" fill="#808285"/>
<rect x="416.88" y="313.95" width="6.5" height="6.5" fill="#808285"/>
<rect x="434.04" y="313.95" width="6.5" height="6.5" fill="#808285"/>
<path d="M286.50 317.20 L291.50 311.95 L296.50 317.20 L291.50 322.45Z" fill="#ec1c24"/>
<path d="M303.66 317.20 L308.66 311.95 L313.66 317.20 L308.66 322.45Z" fill="#ec1c24"/>
<path d="M320.82 317.20 L325.82 311.95 L330.82 317.20 L325.82 322.45Z" fill="#ec1c24"/>
<path d="M337.98 317.20 L342.98 311.95 L347.98 317.20 L342.98 322.45Z" fill="#000"/>
<path d="M355.14 317.20 L360.14 311.95 L365.14 317.20 L360.14 322.45Z" fill="#000"/>
<path d="M372.30 317.20 L377.30 311.95 L382.30 317.20 L377.30 322.45Z" fill="#000"/>
<path d="M389.46 317.20 L394.46 311.95 L399.46 317.20 L394.46 322.45Z" fill="#000"/>
<path d="M406.62 317.20 L411.62 311.95 L416.62 317.20 L411.62 322.45Z" fill="#000"/>
<path d="M423.78 317.20 L428.78 311.95 L433.78 317.20 L428.78 322.45Z" fill="#000"/>
<path d="M440.94 317.20 L445.94 311.95 L450.94 317.20 L445.94 322.45Z" fill="#000"/>
<text x="324.7" y="305.9" font-size="10.15" text-anchor="start" >Front of Array</text>
<text x="259.6" y="344.5" font-size="10.3" text-anchor="start" >U6</text>
<line x1="259.8" y1="352.3" x2="267" y2="352.3" stroke="#1b7ac4" stroke-width="2.8"/>
<path d="M266 344.90000000000003 L279.4 352.3 L266 359.7Z" fill="#1b7ac4"/>
<rect x="279.60" y="349.05" width="6.5" height="6.5" fill="#808285"/>
<rect x="296.76" y="349.05" width="6.5" height="6.5" fill="#808285"/>
<rect x="313.92" y="349.05" width="6.5" height="6.5" fill="#808285"/>
<rect x="331.08" y="349.05" width="6.5" height="6.5" fill="#808285"/>
<rect x="348.24" y="349.05" width="6.5" height="6.5" fill="#808285"/>
<rect x="365.40" y="349.05" width="6.5" height="6.5" fill="#808285"/>
<rect x="382.56" y="349.05" width="6.5" height="6.5" fill="#808285"/>
<rect x="399.72" y="349.05" width="6.5" height="6.5" fill="#808285"/>
<rect x="416.88" y="349.05" width="6.5" height="6.5" fill="#808285"/>
<rect x="434.04" y="349.05" width="6.5" height="6.5" fill="#808285"/>
<path d="M286.50 352.30 L291.50 347.05 L296.50 352.30 L291.50 357.55Z" fill="#000"/>
<path d="M303.66 352.30 L308.66 347.05 L313.66 352.30 L308.66 357.55Z" fill="#000"/>
<path d="M320.82 352.30 L325.82 347.05 L330.82 352.30 L325.82 357.55Z" fill="#000"/>
<path d="M337.98 352.30 L342.98 347.05 L347.98 352.30 L342.98 357.55Z" fill="#000"/>
<path d="M355.14 352.30 L360.14 347.05 L365.14 352.30 L360.14 357.55Z" fill="#000"/>
<path d="M372.30 352.30 L377.30 347.05 L382.30 352.30 L377.30 357.55Z" fill="#000"/>
<path d="M389.46 352.30 L394.46 347.05 L399.46 352.30 L394.46 357.55Z" fill="#000"/>
<path d="M406.62 352.30 L411.62 347.05 L416.62 352.30 L411.62 357.55Z" fill="#ec1c24"/>
<path d="M423.78 352.30 L428.78 347.05 L433.78 352.30 L428.78 357.55Z" fill="#ec1c24"/>
<path d="M440.94 352.30 L445.94 347.05 L450.94 352.30 L445.94 357.55Z" fill="#ec1c24"/>
<text x="324.7" y="344.6" font-size="10.15" text-anchor="start" >Back of Array</text>
<line x1="477.4" y1="332.3" x2="497.5" y2="332.3" stroke="#000" stroke-width="3.4"/>
<path d="M496.8 325.0 L510.2 332.3 L496.8 339.6Z" fill="#000"/>
<line x1="537.3" y1="338.7" x2="651.0" y2="338.7" stroke="#000" stroke-width="2.6"/>
<path d="M546.20 334.60 C549.20 334.05 553.20 334.00 555.50 334.40 C557.50 335.10 557.50 339.00 556.70 340.70 C555.60 342.50 553.20 343.05 550.80 343.05 C547.80 343.05 545.50 342.40 545.10 340.60 L544.95 336.20 C544.95 335.30 545.40 334.80 546.20 334.60Z" fill="#8ea0d6" stroke="#000" stroke-width="1.3"/>
<line x1="543.60" y1="338.7" x2="547.50" y2="338.7" stroke="#000" stroke-width="2.7" stroke-linecap="round"/>
<line x1="556.10" y1="331.80" x2="556.40" y2="334.90" stroke="#000" stroke-width="1.3"/>
<circle cx="555.50" cy="329.80" r="2.9" fill="#d65a5a" stroke="#000" stroke-width="1.3"/>
<path d="M561.95 334.60 C564.95 334.05 568.95 334.00 571.25 334.40 C573.25 335.10 573.25 339.00 572.45 340.70 C571.35 342.50 568.95 343.05 566.55 343.05 C563.55 343.05 561.25 342.40 560.85 340.60 L560.70 336.20 C560.70 335.30 561.15 334.80 561.95 334.60Z" fill="#8ea0d6" stroke="#000" stroke-width="1.3"/>
<line x1="559.35" y1="338.7" x2="563.25" y2="338.7" stroke="#000" stroke-width="2.7" stroke-linecap="round"/>
<line x1="571.85" y1="331.80" x2="572.15" y2="334.90" stroke="#000" stroke-width="1.3"/>
<circle cx="571.25" cy="329.80" r="2.9" fill="#d65a5a" stroke="#000" stroke-width="1.3"/>
<path d="M577.70 334.60 C580.70 334.05 584.70 334.00 587.00 334.40 C589.00 335.10 589.00 339.00 588.20 340.70 C587.10 342.50 584.70 343.05 582.30 343.05 C579.30 343.05 577.00 342.40 576.60 340.60 L576.45 336.20 C576.45 335.30 576.90 334.80 577.70 334.60Z" fill="#8ea0d6" stroke="#000" stroke-width="1.3"/>
<line x1="575.10" y1="338.7" x2="579.00" y2="338.7" stroke="#000" stroke-width="2.7" stroke-linecap="round"/>
<line x1="587.60" y1="331.80" x2="587.90" y2="334.90" stroke="#000" stroke-width="1.3"/>
<circle cx="587.00" cy="329.80" r="2.9" fill="#d65a5a" stroke="#000" stroke-width="1.3"/>
<polyline points="557.0,326.3 563.1,313.6 570.8,313.6" fill="none" stroke="#000" stroke-width="1.2"/>
<polyline points="594.9,338.7 594.9,327.2 602.8,327.2" fill="none" stroke="#000" stroke-width="2"/>
<path d="M602.1 323.8 L608.7 327.2 L602.1 330.6Z" fill="#000"/>
<rect x="596.0" y="333.0" width="47.2" height="11.5" fill="#ec1c24" stroke="#000" stroke-width="2.3"/>
<text x="606.0" y="342.40000000000003" font-size="10.1" font-style="italic" fill="#000">HBE1</text>
<text x="571.3" y="313" font-size="10.3" text-anchor="start" >dCas12a</text>
<text x="572.4" y="324.8" font-size="10.3" text-anchor="start" >Activator</text>
<line x1="30.3" y1="537" x2="279.8" y2="537" stroke="#9e9e9e" stroke-width="1.4" />
<line x1="155.9" y1="403.0" x2="155.9" y2="558.1" stroke="#000" stroke-width="1.6" stroke-dasharray="3.3 2.7" stroke-dashoffset="1.8"/>
<line x1="279.6" y1="403.0" x2="279.6" y2="558.1" stroke="#000" stroke-width="1.6" stroke-dasharray="3.3 2.7" stroke-dashoffset="1.8"/>
<line x1="29.3" y1="403.5" x2="29.3" y2="562.3000000000001" stroke="#000" stroke-width="2.5"/>
<line x1="28.1" y1="561.1" x2="279.8" y2="561.1" stroke="#000" stroke-width="2.5"/>
<line x1="23.8" y1="412.6" x2="29.3" y2="412.6" stroke="#000" stroke-width="2" />
<text x="21.9" y="416.3" font-size="10.4" text-anchor="end" >12</text>
<line x1="23.8" y1="454.2" x2="29.3" y2="454.2" stroke="#000" stroke-width="2" />
<text x="21.9" y="457.9" font-size="10.4" text-anchor="end" >8</text>
<line x1="23.8" y1="495.7" x2="29.3" y2="495.7" stroke="#000" stroke-width="2" />
<text x="21.9" y="499.4" font-size="10.4" text-anchor="end" >4</text>
<line x1="23.8" y1="537" x2="29.3" y2="537" stroke="#000" stroke-width="2" />
<text x="21.9" y="540.7" font-size="10.4" text-anchor="end" >0</text>
<line x1="53.3" y1="561.1" x2="53.3" y2="565.3000000000001" stroke="#000" stroke-width="2" />
<text x="57.699999999999996" y="567.9" font-size="10.4" text-anchor="end" transform="rotate(-90 57.699999999999996 567.9)" >Ctrl</text>
<line x1="94.34" y1="561.1" x2="94.34" y2="565.3000000000001" stroke="#000" stroke-width="2" />
<text x="98.74000000000001" y="567.9" font-size="10.4" text-anchor="end" transform="rotate(-90 98.74000000000001 567.9)" >Front</text>
<line x1="135.38" y1="561.1" x2="135.38" y2="565.3000000000001" stroke="#000" stroke-width="2" />
<text x="139.78" y="567.9" font-size="10.4" text-anchor="end" transform="rotate(-90 139.78 567.9)" >Back</text>
<line x1="176.42000000000002" y1="561.1" x2="176.42000000000002" y2="565.3000000000001" stroke="#000" stroke-width="2" />
<text x="180.82000000000002" y="567.9" font-size="10.4" text-anchor="end" transform="rotate(-90 180.82000000000002 567.9)" >Ctrl</text>
<line x1="217.45999999999998" y1="561.1" x2="217.45999999999998" y2="565.3000000000001" stroke="#000" stroke-width="2" />
<text x="221.85999999999999" y="567.9" font-size="10.4" text-anchor="end" transform="rotate(-90 221.85999999999999 567.9)" >Front</text>
<line x1="258.5" y1="561.1" x2="258.5" y2="565.3000000000001" stroke="#000" stroke-width="2" />
<text x="262.9" y="567.9" font-size="10.4" text-anchor="end" transform="rotate(-90 262.9 567.9)" >Back</text>
<text transform="translate(9.6 483) rotate(-90)" font-size="10.4" text-anchor="middle">log<tspan font-size="7" dy="2.2">2</tspan><tspan dy="-2.2"> fold change</tspan></text>
<text x="45.9" y="393.5" font-size="10.5" text-anchor="start" >dEnAsCas12a-VPR</text>
<text x="164.1" y="393.5" font-size="10.5" text-anchor="start" >dHyperLbCas12a-VPR</text>
<text x="105.2" y="609.4" font-size="10.3"><tspan font-style="italic">HBE1</tspan> crRNA location</text>
<line x1="43.4" y1="527.1" x2="43.4" y2="534.5" stroke="#f7981e" stroke-width="1.7" />
<rect x="35.75" y="535.35" width="15.30" height="6.50" fill="#fff" fill-opacity="0.75" stroke="#f7981e" stroke-width="1.7"/>
<line x1="35.75" y1="536.5" x2="51.05" y2="536.5" stroke="#f7981e" stroke-width="1.53" />
<circle cx="43.4" cy="527.1" r="1.6" fill="#000"/>
<circle cx="38" cy="543.7" r="1.6" fill="#000"/>
<circle cx="47.1" cy="541.5" r="1.6" fill="#000"/>
<line x1="64" y1="531.3" x2="64" y2="535" stroke="#1b7ac4" stroke-width="1.7" />
<line x1="64" y1="540.2" x2="64" y2="542.7" stroke="#1b7ac4" stroke-width="1.7" />
<rect x="56.35" y="535.85" width="15.30" height="3.50" fill="#fff" fill-opacity="0.75" stroke="#1b7ac4" stroke-width="1.7"/>
<line x1="56.35" y1="537.5" x2="71.65" y2="537.5" stroke="#1b7ac4" stroke-width="1.53" />
<path d="M61.55 533.63 L64.00 528.73 L66.45 533.63Z" fill="#000"/>
<path d="M61.55 539.33 L64.00 534.43 L66.45 539.33Z" fill="#000"/>
<path d="M61.55 545.03 L64.00 540.13 L66.45 545.03Z" fill="#000"/>
<rect x="76.65" y="449.25" width="15.50" height="2.40" fill="#fff" fill-opacity="0.75" stroke="#f7981e" stroke-width="1.5"/>
<circle cx="80.4" cy="449.2" r="1.6" fill="#000"/>
<circle cx="88.8" cy="449.2" r="1.6" fill="#000"/>
<circle cx="84.1" cy="454.6" r="1.6" fill="#000"/>
<polygon points="80.30,441.55 80.84,442.81 82.20,442.93 81.17,443.83 81.48,445.17 80.30,444.47 79.12,445.17 79.43,443.83 78.40,442.93 79.76,442.81" fill="#000"/>
<polygon points="84.40,441.55 84.94,442.81 86.30,442.93 85.27,443.83 85.58,445.17 84.40,444.47 83.22,445.17 83.53,443.83 82.50,442.93 83.86,442.81" fill="#000"/>
<polygon points="88.50,441.55 89.04,442.81 90.40,442.93 89.37,443.83 89.68,445.17 88.50,444.47 87.32,445.17 87.63,443.83 86.60,442.93 87.96,442.81" fill="#000"/>
<rect x="96.5" y="444.6" width="17.0" height="4.10" fill="#1b7ac4"/>
<path d="M98.15 448.63 L100.60 443.73 L103.05 448.63Z" fill="#000"/>
<path d="M102.55 444.93 L105.00 440.03 L107.45 444.93Z" fill="#000"/>
<path d="M107.15 450.83 L109.60 445.93 L112.05 450.83Z" fill="#000"/>
<polygon points="100.90,434.55 101.44,435.81 102.80,435.93 101.77,436.83 102.08,438.17 100.90,437.47 99.72,438.17 100.03,436.83 99.00,435.93 100.36,435.81" fill="#000"/>
<polygon points="105.00,434.55 105.54,435.81 106.90,435.93 105.87,436.83 106.18,438.17 105.00,437.47 103.82,438.17 104.13,436.83 103.10,435.93 104.46,435.81" fill="#000"/>
<polygon points="109.10,434.55 109.64,435.81 111.00,435.93 109.97,436.83 110.28,438.17 109.10,437.47 107.92,438.17 108.23,436.83 107.20,435.93 108.56,435.81" fill="#000"/>
<rect x="117.85" y="455.75" width="15.50" height="2.20" fill="#fff" fill-opacity="0.75" stroke="#f7981e" stroke-width="1.5"/>
<circle cx="121" cy="458.2" r="1.6" fill="#000"/>
<circle cx="125.4" cy="453.3" r="1.6" fill="#000"/>
<circle cx="130" cy="458.7" r="1.6" fill="#000"/>
<polygon points="121.50,445.55 122.04,446.81 123.40,446.93 122.37,447.83 122.68,449.17 121.50,448.47 120.32,449.17 120.63,447.83 119.60,446.93 120.96,446.81" fill="#000"/>
<polygon points="125.60,445.55 126.14,446.81 127.50,446.93 126.47,447.83 126.78,449.17 125.60,448.47 124.42,449.17 124.73,447.83 123.70,446.93 125.06,446.81" fill="#000"/>
<polygon points="129.70,445.55 130.24,446.81 131.60,446.93 130.57,447.83 130.88,449.17 129.70,448.47 128.52,449.17 128.83,447.83 127.80,446.93 129.16,446.81" fill="#000"/>
<rect x="137.8" y="536.10" width="17.0" height="2.2" fill="#1b7ac4"/>
<path d="M138.25 538.33 L140.70 533.43 L143.15 538.33Z" fill="#000"/>
<path d="M143.95 539.83 L146.40 534.93 L148.85 539.83Z" fill="#000"/>
<path d="M148.95 540.83 L151.40 535.93 L153.85 540.83Z" fill="#000"/>
<text x="146.4" y="532.1" font-size="8.8" text-anchor="middle" >n.s.</text>
<line x1="166.7" y1="531.5" x2="166.7" y2="534.5" stroke="#f7981e" stroke-width="1.7" />
<line x1="166.7" y1="540.2" x2="166.7" y2="543.2" stroke="#f7981e" stroke-width="1.7" />
<rect x="159.05" y="535.35" width="15.30" height="4.00" fill="#fff" fill-opacity="0.75" stroke="#f7981e" stroke-width="1.7"/>
<line x1="159.04999999999998" y1="537" x2="174.35" y2="537" stroke="#f7981e" stroke-width="1.53" />
<circle cx="166.6" cy="531.5" r="1.6" fill="#000"/>
<circle cx="166.6" cy="543.2" r="1.6" fill="#000"/>
<line x1="187.2" y1="509.7" x2="187.2" y2="530" stroke="#1b7ac4" stroke-width="1.7" />
<rect x="179.55" y="530.85" width="15.30" height="18.90" fill="#fff" fill-opacity="0.75" stroke="#1b7ac4" stroke-width="1.7"/>
<line x1="179.54999999999998" y1="549.5" x2="194.85" y2="549.5" stroke="#1b7ac4" stroke-width="1.53" />
<path d="M184.75 511.53 L187.20 506.63 L189.65 511.53Z" fill="#000"/>
<path d="M179.85 553.73 L182.30 548.83 L184.75 553.73Z" fill="#000"/>
<path d="M190.25 552.23 L192.70 547.33 L195.15 552.23Z" fill="#000"/>
<rect x="199.5" y="452.70" width="17.0" height="2.2" fill="#f7981e"/>
<circle cx="201.4" cy="453.5" r="1.6" fill="#000"/>
<circle cx="207.8" cy="453.8" r="1.6" fill="#000"/>
<circle cx="214" cy="455" r="1.6" fill="#000"/>
<polygon points="203.90,445.45 204.44,446.71 205.80,446.83 204.77,447.73 205.08,449.07 203.90,448.37 202.72,449.07 203.03,447.73 202.00,446.83 203.36,446.71" fill="#000"/>
<polygon points="208.00,445.45 208.54,446.71 209.90,446.83 208.87,447.73 209.18,449.07 208.00,448.37 206.82,449.07 207.13,447.73 206.10,446.83 207.46,446.71" fill="#000"/>
<polygon points="212.10,445.45 212.64,446.71 214.00,446.83 212.97,447.73 213.28,449.07 212.10,448.37 210.92,449.07 211.23,447.73 210.20,446.83 211.56,446.71" fill="#000"/>
<rect x="220.0" y="418.8" width="17.0" height="3.20" fill="#1b7ac4"/>
<path d="M219.55 421.33 L222.00 416.43 L224.45 421.33Z" fill="#000"/>
<path d="M225.75 424.83 L228.20 419.93 L230.65 424.83Z" fill="#000"/>
<path d="M230.15 420.63 L232.60 415.73 L235.05 420.63Z" fill="#000"/>
<polygon points="224.40,410.75 224.94,412.01 226.30,412.13 225.27,413.03 225.58,414.37 224.40,413.67 223.22,414.37 223.53,413.03 222.50,412.13 223.86,412.01" fill="#000"/>
<polygon points="228.50,410.75 229.04,412.01 230.40,412.13 229.37,413.03 229.68,414.37 228.50,413.67 227.32,414.37 227.63,413.03 226.60,412.13 227.96,412.01" fill="#000"/>
<polygon points="232.60,410.75 233.14,412.01 234.50,412.13 233.47,413.03 233.78,414.37 232.60,413.67 231.42,414.37 231.73,413.03 230.70,412.13 232.06,412.01" fill="#000"/>
<rect x="240.85" y="437.15" width="15.50" height="2.00" fill="#fff" fill-opacity="0.75" stroke="#f7981e" stroke-width="1.5"/>
<circle cx="243.5" cy="438.9" r="1.6" fill="#000"/>
<circle cx="248.5" cy="435.2" r="1.6" fill="#000"/>
<circle cx="253" cy="438.9" r="1.6" fill="#000"/>
<polygon points="244.50,428.35 245.04,429.61 246.40,429.73 245.37,430.63 245.68,431.97 244.50,431.27 243.32,431.97 243.63,430.63 242.60,429.73 243.96,429.61" fill="#000"/>
<polygon points="248.60,428.35 249.14,429.61 250.50,429.73 249.47,430.63 249.78,431.97 248.60,431.27 247.42,431.97 247.73,430.63 246.70,429.73 248.06,429.61" fill="#000"/>
<polygon points="252.70,428.35 253.24,429.61 254.60,429.73 253.57,430.63 253.88,431.97 252.70,431.27 251.52,431.97 251.83,430.63 250.80,429.73 252.16,429.61" fill="#000"/>
<rect x="260.8" y="452.3" width="17.0" height="3.20" fill="#1b7ac4"/>
<path d="M262.45 455.83 L264.90 450.93 L267.35 455.83Z" fill="#000"/>
<path d="M267.15 453.43 L269.60 448.53 L272.05 453.43Z" fill="#000"/>
<path d="M272.15 458.33 L274.60 453.43 L277.05 458.33Z" fill="#000"/>
<polygon points="267.25,443.05 267.79,444.31 269.15,444.43 268.12,445.33 268.43,446.67 267.25,445.97 266.07,446.67 266.38,445.33 265.35,444.43 266.71,444.31" fill="#000"/>
<polygon points="271.35,443.05 271.89,444.31 273.25,444.43 272.22,445.33 272.53,446.67 271.35,445.97 270.17,446.67 270.48,445.33 269.45,444.43 270.81,444.31" fill="#000"/>
<line x1="347.4" y1="538.2" x2="599" y2="538.2" stroke="#9e9e9e" stroke-width="1.4" />
<line x1="473.7" y1="401.2" x2="473.7" y2="555.9" stroke="#000" stroke-width="1.6" stroke-dasharray="3.3 2.7" stroke-dashoffset="1.8"/>
<line x1="599" y1="401.2" x2="599" y2="555.9" stroke="#000" stroke-width="1.6" stroke-dasharray="3.3 2.7" stroke-dashoffset="1.8"/>
<line x1="346.4" y1="401.7" x2="346.4" y2="560.1" stroke="#000" stroke-width="2.5"/>
<line x1="345.2" y1="558.9" x2="599" y2="558.9" stroke="#000" stroke-width="2.5"/>
<line x1="340.9" y1="413.7" x2="346.4" y2="413.7" stroke="#000" stroke-width="2" />
<text x="338.6" y="417.4" font-size="10.4" text-anchor="end" >8</text>
<line x1="340.9" y1="445" x2="346.4" y2="445" stroke="#000" stroke-width="2" />
<text x="338.6" y="448.7" font-size="10.4" text-anchor="end" >6</text>
<line x1="340.9" y1="476.2" x2="346.4" y2="476.2" stroke="#000" stroke-width="2" />
<text x="338.6" y="479.9" font-size="10.4" text-anchor="end" >4</text>
<line x1="340.9" y1="507.2" x2="346.4" y2="507.2" stroke="#000" stroke-width="2" />
<text x="338.6" y="510.9" font-size="10.4" text-anchor="end" >2</text>
<line x1="340.9" y1="538.2" x2="346.4" y2="538.2" stroke="#000" stroke-width="2" />
<text x="338.6" y="541.9000000000001" font-size="10.4" text-anchor="end" >0</text>
<line x1="369.5" y1="558.9" x2="369.5" y2="563.1" stroke="#000" stroke-width="2" />
<text x="373.9" y="567.6" font-size="10.4" text-anchor="end" transform="rotate(-90 373.9 567.6)" >Ctrl</text>
<line x1="411.4" y1="558.9" x2="411.4" y2="563.1" stroke="#000" stroke-width="2" />
<text x="415.79999999999995" y="567.6" font-size="10.4" text-anchor="end" transform="rotate(-90 415.79999999999995 567.6)" >Front</text>
<line x1="453.3" y1="558.9" x2="453.3" y2="563.1" stroke="#000" stroke-width="2" />
<text x="457.7" y="567.6" font-size="10.4" text-anchor="end" transform="rotate(-90 457.7 567.6)" >Back</text>
<line x1="495.2" y1="558.9" x2="495.2" y2="563.1" stroke="#000" stroke-width="2" />
<text x="499.59999999999997" y="567.6" font-size="10.4" text-anchor="end" transform="rotate(-90 499.59999999999997 567.6)" >Ctrl</text>
<line x1="537.1" y1="558.9" x2="537.1" y2="563.1" stroke="#000" stroke-width="2" />
<text x="541.5" y="567.6" font-size="10.4" text-anchor="end" transform="rotate(-90 541.5 567.6)" >Front</text>
<line x1="579.0" y1="558.9" x2="579.0" y2="563.1" stroke="#000" stroke-width="2" />
<text x="583.4" y="567.6" font-size="10.4" text-anchor="end" transform="rotate(-90 583.4 567.6)" >Back</text>
<text transform="translate(323.1 481) rotate(-90)" font-size="10.4" text-anchor="middle">log<tspan font-size="7" dy="2.2">2</tspan><tspan dy="-2.2"> fold change</tspan></text>
<text x="363.8" y="393.5" font-size="10.5" text-anchor="start" >dEnAsCas12a-P300</text>
<text x="482.8" y="393.5" font-size="10.5" text-anchor="start" >dHyperLbCas12a-P300</text>
<text x="422.8" y="609.4" font-size="10.3"><tspan font-style="italic">HBE1</tspan> crRNA location</text>
<rect x="351.55" y="536.65" width="15.30" height="3.20" fill="#fff" fill-opacity="0.75" stroke="#f7981e" stroke-width="1.7"/>
<line x1="351.55" y1="538.2" x2="366.84999999999997" y2="538.2" stroke="#f7981e" stroke-width="1.53" />
<circle cx="354.1" cy="538.2" r="1.6" fill="#000"/>
<circle cx="359.1" cy="534" r="1.6" fill="#000"/>
<circle cx="363.8" cy="542.5" r="1.6" fill="#000"/>
<rect x="372.55" y="537.05" width="15.50" height="1.70" fill="#fff" fill-opacity="0.75" stroke="#1b7ac4" stroke-width="1.5"/>
<path d="M371.55 539.33 L374.00 534.43 L376.45 539.33Z" fill="#000"/>
<path d="M377.45 538.13 L379.90 533.23 L382.35 538.13Z" fill="#000"/>
<path d="M383.15 543.03 L385.60 538.13 L388.05 543.03Z" fill="#000"/>
<rect x="393.15" y="464.15" width="15.50" height="1.40" fill="#fff" fill-opacity="0.75" stroke="#f7981e" stroke-width="1.5"/>
<circle cx="394.6" cy="464.4" r="1.6" fill="#000"/>
<circle cx="400.9" cy="467" r="1.6" fill="#000"/>
<circle cx="406" cy="463.4" r="1.6" fill="#000"/>
<polygon points="396.80,456.85 397.34,458.11 398.70,458.23 397.67,459.13 397.98,460.47 396.80,459.77 395.62,460.47 395.93,459.13 394.90,458.23 396.26,458.11" fill="#000"/>
<polygon points="400.90,456.85 401.44,458.11 402.80,458.23 401.77,459.13 402.08,460.47 400.90,459.77 399.72,460.47 400.03,459.13 399.00,458.23 400.36,458.11" fill="#000"/>
<polygon points="405.00,456.85 405.54,458.11 406.90,458.23 405.87,459.13 406.18,460.47 405.00,459.77 403.82,460.47 404.13,459.13 403.10,458.23 404.46,458.11" fill="#000"/>
<line x1="422" y1="478.2" x2="422" y2="481.6" stroke="#1b7ac4" stroke-width="1.7" />
<line x1="422" y1="488.6" x2="422" y2="490.8" stroke="#1b7ac4" stroke-width="1.7" />
<rect x="414.35" y="482.45" width="15.30" height="5.30" fill="#fff" fill-opacity="0.75" stroke="#1b7ac4" stroke-width="1.7"/>
<line x1="414.35" y1="485.3" x2="429.65" y2="485.3" stroke="#1b7ac4" stroke-width="1.53" />
<path d="M419.45 480.53 L421.90 475.63 L424.35 480.53Z" fill="#000"/>
<path d="M419.45 487.63 L421.90 482.73 L424.35 487.63Z" fill="#000"/>
<path d="M419.45 493.13 L421.90 488.23 L424.35 493.13Z" fill="#000"/>
<polygon points="417.90,468.85 418.44,470.11 419.80,470.23 418.77,471.13 419.08,472.47 417.90,471.77 416.72,472.47 417.03,471.13 416.00,470.23 417.36,470.11" fill="#000"/>
<polygon points="422.00,468.85 422.54,470.11 423.90,470.23 422.87,471.13 423.18,472.47 422.00,471.77 420.82,472.47 421.13,471.13 420.10,470.23 421.46,470.11" fill="#000"/>
<polygon points="426.10,468.85 426.64,470.11 428.00,470.23 426.97,471.13 427.28,472.47 426.10,471.77 424.92,472.47 425.23,471.13 424.20,470.23 425.56,470.11" fill="#000"/>
<line x1="442.7" y1="472.8" x2="442.7" y2="475.5" stroke="#f7981e" stroke-width="1.7" />
<rect x="435.05" y="476.35" width="15.30" height="2.90" fill="#fff" fill-opacity="0.75" stroke="#f7981e" stroke-width="1.7"/>
<line x1="435.05" y1="477.8" x2="450.34999999999997" y2="477.8" stroke="#f7981e" stroke-width="1.53" />
<circle cx="437.4" cy="479.1" r="1.6" fill="#000"/>
<circle cx="442.8" cy="472.8" r="1.6" fill="#000"/>
<circle cx="447.2" cy="480.1" r="1.6" fill="#000"/>
<polygon points="438.60,464.85 439.14,466.11 440.50,466.23 439.47,467.13 439.78,468.47 438.60,467.77 437.42,468.47 437.73,467.13 436.70,466.23 438.06,466.11" fill="#000"/>
<polygon points="442.70,464.85 443.24,466.11 444.60,466.23 443.57,467.13 443.88,468.47 442.70,467.77 441.52,468.47 441.83,467.13 440.80,466.23 442.16,466.11" fill="#000"/>
<polygon points="446.80,464.85 447.34,466.11 448.70,466.23 447.67,467.13 447.98,468.47 446.80,467.77 445.62,468.47 445.93,467.13 444.90,466.23 446.26,466.11" fill="#000"/>
<rect x="456.15" y="539.05" width="15.30" height="4.00" fill="#fff" fill-opacity="0.75" stroke="#1b7ac4" stroke-width="1.7"/>
<line x1="456.15000000000003" y1="541.3" x2="471.45" y2="541.3" stroke="#1b7ac4" stroke-width="1.53" />
<path d="M461.15 538.03 L463.60 533.13 L466.05 538.03Z" fill="#000"/>
<path d="M456.55 543.03 L459.00 538.13 L461.45 543.03Z" fill="#000"/>
<path d="M465.85 547.33 L468.30 542.43 L470.75 547.33Z" fill="#000"/>
<text x="463.8" y="530.6" font-size="8.8" text-anchor="middle" >n.s.</text>
<line x1="484.5" y1="524.1" x2="484.5" y2="530.3" stroke="#f7981e" stroke-width="1.7" />
<line x1="484.5" y1="544" x2="484.5" y2="551.4" stroke="#f7981e" stroke-width="1.7" />
<rect x="476.85" y="531.15" width="15.30" height="12.00" fill="#fff" fill-opacity="0.75" stroke="#f7981e" stroke-width="1.7"/>
<line x1="476.85" y1="537" x2="492.15" y2="537" stroke="#f7981e" stroke-width="1.53" />
<circle cx="484.3" cy="524.1" r="1.6" fill="#000"/>
<circle cx="484.3" cy="537" r="1.6" fill="#000"/>
<circle cx="484.3" cy="551.4" r="1.6" fill="#000"/>
<rect x="497.85" y="535.75" width="15.50" height="2.50" fill="#fff" fill-opacity="0.75" stroke="#1b7ac4" stroke-width="1.5"/>
<path d="M498.55 537.33 L501.00 532.43 L503.45 537.33Z" fill="#000"/>
<path d="M502.95 544.83 L505.40 539.93 L507.85 544.83Z" fill="#000"/>
<path d="M508.45 536.33 L510.90 531.43 L513.35 536.33Z" fill="#000"/>
<line x1="526" y1="416.6" x2="526" y2="420" stroke="#f7981e" stroke-width="1.7" />
<line x1="526" y1="428.7" x2="526" y2="432.5" stroke="#f7981e" stroke-width="1.7" />
<rect x="518.35" y="420.85" width="15.30" height="7.00" fill="#fff" fill-opacity="0.75" stroke="#f7981e" stroke-width="1.7"/>
<line x1="518.35" y1="424.5" x2="533.65" y2="424.5" stroke="#f7981e" stroke-width="1.53" />
<circle cx="526" cy="416.6" r="1.6" fill="#000"/>
<circle cx="526" cy="432.5" r="1.6" fill="#000"/>
<polygon points="523.95,409.05 524.49,410.31 525.85,410.43 524.82,411.33 525.13,412.67 523.95,411.97 522.77,412.67 523.08,411.33 522.05,410.43 523.41,410.31" fill="#000"/>
<polygon points="528.05,409.05 528.59,410.31 529.95,410.43 528.92,411.33 529.23,412.67 528.05,411.97 526.87,412.67 527.18,411.33 526.15,410.43 527.51,410.31" fill="#000"/>
<rect x="539.45" y="447.55" width="15.50" height="3.00" fill="#fff" fill-opacity="0.75" stroke="#1b7ac4" stroke-width="1.5"/>
<path d="M539.45 452.13 L541.90 447.23 L544.35 452.13Z" fill="#000"/>
<path d="M544.35 445.93 L546.80 441.03 L549.25 445.93Z" fill="#000"/>
<path d="M547.55 454.13 L550.00 449.23 L552.45 454.13Z" fill="#000"/>
<polygon points="543.10,435.05 543.64,436.31 545.00,436.43 543.97,437.33 544.28,438.67 543.10,437.97 541.92,438.67 542.23,437.33 541.20,436.43 542.56,436.31" fill="#000"/>
<polygon points="547.20,435.05 547.74,436.31 549.10,436.43 548.07,437.33 548.38,438.67 547.20,437.97 546.02,438.67 546.33,437.33 545.30,436.43 546.66,436.31" fill="#000"/>
<polygon points="551.30,435.05 551.84,436.31 553.20,436.43 552.17,437.33 552.48,438.67 551.30,437.97 550.12,438.67 550.43,437.33 549.40,436.43 550.76,436.31" fill="#000"/>
<rect x="559.2" y="407.30" width="17.0" height="2.2" fill="#f7981e"/>
<circle cx="562.2" cy="408.4" r="1.6" fill="#000"/>
<circle cx="567.4" cy="408.4" r="1.6" fill="#000"/>
<circle cx="572.9" cy="408.4" r="1.6" fill="#000"/>
<polygon points="563.60,400.85 564.14,402.11 565.50,402.23 564.47,403.13 564.78,404.47 563.60,403.77 562.42,404.47 562.73,403.13 561.70,402.23 563.06,402.11" fill="#000"/>
<polygon points="567.70,400.85 568.24,402.11 569.60,402.23 568.57,403.13 568.88,404.47 567.70,403.77 566.52,404.47 566.83,403.13 565.80,402.23 567.16,402.11" fill="#000"/>
<polygon points="571.80,400.85 572.34,402.11 573.70,402.23 572.67,403.13 572.98,404.47 571.80,403.77 570.62,404.47 570.93,403.13 569.90,402.23 571.26,402.11" fill="#000"/>
<rect x="581.55" y="513.75" width="15.30" height="3.00" fill="#fff" fill-opacity="0.75" stroke="#1b7ac4" stroke-width="1.7"/>
<path d="M582.15 517.53 L584.60 512.63 L587.05 517.53Z" fill="#000"/>
<path d="M586.55 511.33 L589.00 506.43 L591.45 511.33Z" fill="#000"/>
<path d="M591.55 520.73 L594.00 515.83 L596.45 520.73Z" fill="#000"/>
<polygon points="587.15,495.95 587.69,497.21 589.05,497.33 588.02,498.23 588.33,499.57 587.15,498.87 585.97,499.57 586.28,498.23 585.25,497.33 586.61,497.21" fill="#000"/>
<polygon points="591.25,495.95 591.79,497.21 593.15,497.33 592.12,498.23 592.43,499.57 591.25,498.87 590.07,499.57 590.38,498.23 589.35,497.33 590.71,497.21" fill="#000"/>
<text x="604.9" y="410.4" font-size="10.4" text-anchor="start" >Promoter:</text>
<line x1="611.2" y1="414.6" x2="611.2" y2="425.4" stroke="#f7981e" stroke-width="1.4" />
<rect x="606.40" y="416.80" width="9.6" height="6.4" fill="#fff" stroke="#f7981e" stroke-width="1.4"/>
<line x1="606.4000000000001" y1="420" x2="616.0" y2="420" stroke="#f7981e" stroke-width="1.2" />
<circle cx="611.2" cy="420" r="1.95" fill="#000"/>
<text x="624.6" y="422.9" font-size="10.4" text-anchor="start" >CAG</text>
<line x1="611.2" y1="427.6" x2="611.2" y2="438.4" stroke="#1b7ac4" stroke-width="1.4" />
<rect x="606.40" y="429.80" width="9.6" height="6.4" fill="#fff" stroke="#1b7ac4" stroke-width="1.4"/>
<line x1="606.4000000000001" y1="433" x2="616.0" y2="433" stroke="#1b7ac4" stroke-width="1.2" />
<path d="M608.70 435.38 L611.20 430.38 L613.70 435.38Z" fill="#000"/>
<text x="624.6" y="436.3" font-size="10.4" text-anchor="start" >U6</text></svg></body></html>
